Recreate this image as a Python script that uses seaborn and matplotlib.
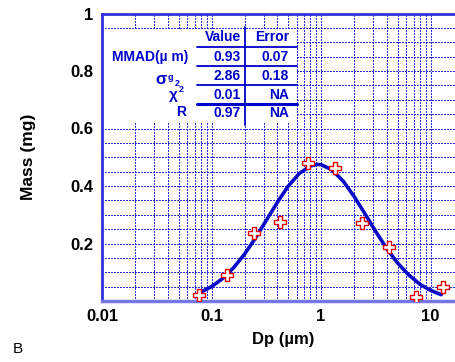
import numpy as np
import pandas as pd
import matplotlib
matplotlib.use("Agg")
import matplotlib.pyplot as plt
from matplotlib.lines import Line2D
from matplotlib.patches import Rectangle
import seaborn as sns

# ---- data ----
dp_points = [0.077, 0.137, 0.246, 0.42, 0.76, 1.34, 2.36, 4.15, 7.3, 13.1]
mass_points = [0.021, 0.090, 0.237, 0.275, 0.480, 0.463, 0.272, 0.188, 0.014, 0.049]

curve_dp = [0.08, 0.1, 0.125, 0.16, 0.2, 0.25, 0.32, 0.4, 0.5, 0.63, 0.8, 0.93,
            1.0, 1.25, 1.6, 2.0, 2.5, 3.2, 4.0, 5.0, 6.3, 8.0, 10.0, 12.5]
curve_mass = [0.031, 0.050, 0.077, 0.117, 0.163, 0.217, 0.284, 0.344, 0.399, 0.443,
              0.470, 0.475, 0.474, 0.457, 0.416, 0.364, 0.305, 0.238, 0.181, 0.132,
              0.091, 0.058, 0.037, 0.022]

x_ticks = [0.01, 0.1, 1, 10]
x_ticklabels = ["0.01", "0.1", "1", "10"]
y_ticks = [0.2, 0.4, 0.6, 0.8, 1.0]
y_ticklabels = ["0.2", "0.4", "0.6", "0.8", "1"]

table_header = ["Value", "Error"]
table_values = ["0.93", "2.86", "0.01", "0.97"]
table_errors = ["0.07", "0.18", "NA", "NA"]

# ---- style ----
sns.set_theme(style="white")
plt.rcParams["font.family"] = ["Liberation Sans", "DejaVu Sans"]

W, H = 455, 362
fig = plt.figure(figsize=(W / 100, H / 100), dpi=100)
ax = fig.add_axes([102 / W, 61 / H, (W - 102) / W, 287.5 / H])

def fx(px):
    return px / W

def fy(py):
    return 1 - py / H

blue = "#0000cc"
gridc = "#1818dd"

pts = pd.DataFrame({"dp": dp_points, "mass": mass_points})
cur = pd.DataFrame({"dp": curve_dp, "mass": curve_mass})

ax.set_xscale("log")
ax.set_xlim(0.01, 16.7)
ax.set_ylim(0, 1)

sns.lineplot(data=cur, x="dp", y="mass", ax=ax, color="#0a0ac8", lw=2.6,
             zorder=4, sort=False)
sns.scatterplot(data=pts, x="dp", y="mass", ax=ax, marker="P", s=85,
                facecolor="white", edgecolor="#e00000", linewidth=1.0, zorder=5)

ax.set_xticks(x_ticks)
ax.set_xticklabels(x_ticklabels)
ax.set_yticks(y_ticks)
ax.set_yticklabels(y_ticklabels)
ax.yaxis.set_minor_locator(matplotlib.ticker.MultipleLocator(0.05))
ax.xaxis.set_minor_locator(matplotlib.ticker.LogLocator(base=10, subs=np.arange(2, 10)))
ax.xaxis.set_minor_formatter(matplotlib.ticker.NullFormatter())

ax.grid(True, which="both", color=gridc, linestyle=(0, (1.0, 1.0)), lw=1.0,
        alpha=0.9, antialiased=False)
ax.set_axisbelow(True)

for lab in ax.get_xticklabels() + ax.get_yticklabels():
    lab.set_fontweight("bold")
    lab.set_fontsize(12)
    lab.set_color("black")
ax.tick_params(axis="both", which="both", direction="in", color=blue, length=4, width=1)
ax.tick_params(axis="both", which="major", pad=6)

ax.spines["right"].set_visible(False)
ax.spines["left"].set_color("#3030dd")
ax.spines["left"].set_linewidth(2)
ax.spines["top"].set_color("#3030dd")
ax.spines["top"].set_linewidth(2)
ax.spines["bottom"].set_color("#7575e6")
ax.spines["bottom"].set_linewidth(2.5)

ax.set_xlabel("Dp (\u00b5m)", fontsize=12, fontweight="bold", color="black")
ax.set_ylabel("Mass (mg)", fontsize=12.5, fontweight="bold", color="black")
ax.xaxis.set_label_coords((283 - 102) / 353, (301 - 332) / 287.5)
ax.yaxis.set_label_coords((36 - 102) / 353, 0.5)

# white table box
ax.add_patch(Rectangle((0, 0.62), (297 - 102) / 353, 0.945 - 0.62,
                       transform=ax.transAxes, facecolor="white", edgecolor="none",
                       zorder=1))

# table lines
def hline(py, x0=197, x1=297, lw=1.3):
    fig.add_artist(Line2D([fx(x0), fx(x1)], [fy(py), fy(py)], color=blue, lw=lw,
                          transform=fig.transFigure))

for py in [47, 66, 85]:
    hline(py)
hline(104, lw=2.2)
fig.add_artist(Line2D([fx(245), fx(245)], [fy(27), fy(125)], color=blue, lw=1.3,
                      transform=fig.transFigure))

tkw = dict(color=blue, fontweight="bold", fontsize=10, va="center")
fig.text(fx(241), fy(37), table_header[0], ha="right", **tkw)
fig.text(fx(289), fy(37), table_header[1], ha="right", **tkw)
row_y = [57, 76, 95, 113]
for yv, v, e in zip(row_y, table_values, table_errors):
    fig.text(fx(241), fy(yv), v, ha="right", **tkw)
    fig.text(fx(289), fy(yv), e, ha="right", **tkw)

fig.text(fx(188), fy(57), "MMAD(\u00b5 m)", ha="right", **tkw)
fig.text(fx(167), fy(80), "\u03c3", ha="right", color=blue, fontweight="bold",
         fontsize=12, va="center")
fig.text(fx(168), fy(78), "g", ha="left", color=blue, fontweight="bold",
         fontsize=6.5, va="center")
fig.text(fx(175), fy(84), "2", ha="left", color=blue, fontweight="bold",
         fontsize=6.5, va="center")
fig.text(fx(178), fy(95), "\u03c7", ha="right", color=blue, fontweight="bold",
         fontsize=11, va="center")
fig.text(fx(179), fy(89), "2", ha="left", color=blue, fontweight="bold",
         fontsize=6.5, va="center")
fig.text(fx(186), fy(112), "R", ha="right", **tkw)

fig.text(fx(13), fy(349), "B", ha="left", va="center", fontsize=11, color="black")

fig.savefig("out.png", dpi=100)
